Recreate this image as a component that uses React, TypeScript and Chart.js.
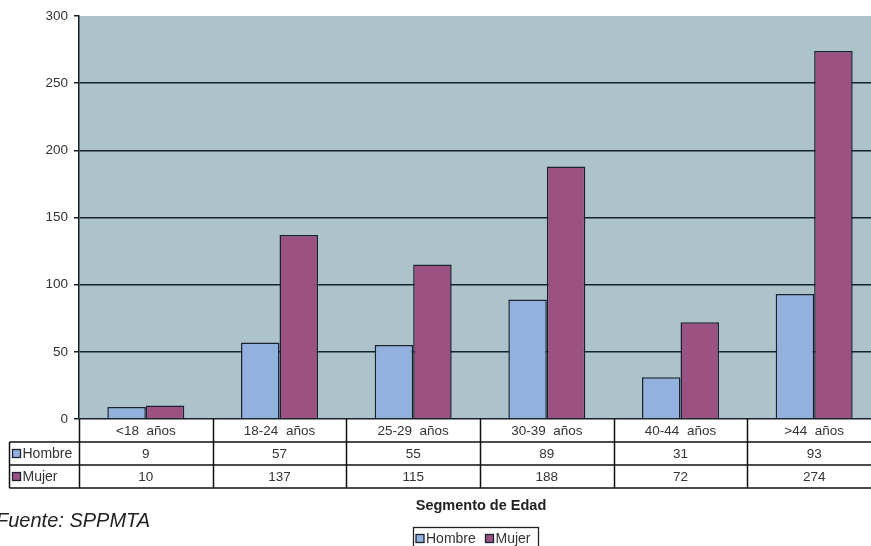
import React, { useEffect, useRef } from "react";
import { Chart, registerables } from "chart.js";

Chart.register(...registerables);

const categories = ["<18  años", "18-24  años", "25-29  años", "30-39  años", "40-44  años", ">44  años"];
const hombre = [9, 57, 55, 89, 31, 93];
const mujer = [10, 137, 115, 188, 72, 274];
const seriesNames = ["Hombre", "Mujer"];
const yTicks = [0, 50, 100, 150, 200, 250, 300];
const axisTitle = "Segmento de Edad";
const sourceNote = "Fuente: SPPMTA";

const BLUE = "#93b1df";
const MAUVE = "#9b5282";
const EDGE = "#1b2330";
const PLOT_BG = "#adc3ca";
const TEXT = "#333333";
const FONT = "Liberation Sans, Arial, sans-serif";

const tablePlugin = {
  id: "tablePlugin",
  beforeDraw(chart: any) {
    const { ctx, chartArea } = chart;
    ctx.save();
    ctx.fillStyle = PLOT_BG;
    ctx.fillRect(chartArea.left, chartArea.top, chartArea.right - chartArea.left, chartArea.bottom - chartArea.top);
    ctx.restore();
  },
  afterDraw(chart: any) {
    const { ctx, chartArea } = chart;
    const xs = chart.scales.x;
    const bottom = chartArea.bottom;
    const r0 = bottom;
    const r1 = 442;
    const r2 = 465;
    const r3 = 488;
    const labelLeft = 9.5;
    const n = categories.length;
    const step = (chartArea.right - chartArea.left) / n;
    const bounds: number[] = [];
    for (let i = 0; i <= n; i++) {
      bounds.push(i < n ? xs.getPixelForValue(i) - step / 2 : xs.getPixelForValue(n - 1) + step / 2);
    }
    ctx.save();
    ctx.strokeStyle = "#111";
    ctx.lineWidth = 1.5;
    ctx.beginPath();
    [r1, r2, r3].forEach((y) => {
      ctx.moveTo(labelLeft, y);
      ctx.lineTo(bounds[n] + 2, y);
    });
    ctx.moveTo(labelLeft, r1);
    ctx.lineTo(labelLeft, r3);
    bounds.forEach((bx) => {
      ctx.moveTo(Math.round(bx) + 0.5, r0);
      ctx.lineTo(Math.round(bx) + 0.5, r3);
    });
    ctx.stroke();

    ctx.fillStyle = TEXT;
    ctx.font = `13.5px ${FONT}`;
    ctx.textAlign = "center";
    ctx.textBaseline = "middle";
    for (let i = 0; i < n; i++) {
      const cx = xs.getPixelForValue(i);
      ctx.fillText(categories[i], cx, (r0 + r1) / 2 + 1);
      ctx.fillText(String(hombre[i]), cx, (r1 + r2) / 2 + 1);
      ctx.fillText(String(mujer[i]), cx, (r2 + r3) / 2 + 1);
    }
    const rows = [
      { name: seriesNames[0], color: BLUE, y: (r1 + r2) / 2 },
      { name: seriesNames[1], color: MAUVE, y: (r2 + r3) / 2 },
    ];
    ctx.textAlign = "left";
    ctx.font = `14px ${FONT}`;
    rows.forEach((r) => {
      ctx.fillStyle = r.color;
      ctx.fillRect(12.5, r.y - 4, 8, 8);
      ctx.strokeStyle = EDGE;
      ctx.lineWidth = 1.3;
      ctx.strokeRect(12.5, r.y - 4, 8, 8);
      ctx.fillStyle = TEXT;
      ctx.fillText(r.name, 22.5, r.y + 1);
    });

    ctx.font = `bold 14.5px ${FONT}`;
    ctx.textAlign = "center";
    ctx.fillStyle = "#222";
    ctx.fillText(axisTitle, 481, 506);

    ctx.font = `italic 20px ${FONT}`;
    ctx.textAlign = "left";
    ctx.textBaseline = "alphabetic";
    ctx.fillStyle = "#222";
    ctx.fillText(sourceNote, -4, 527);

    ctx.textBaseline = "middle";
    ctx.strokeStyle = "#222";
    ctx.lineWidth = 1.3;
    ctx.strokeRect(413.5, 527.5, 125, 25);
    ctx.font = `14px ${FONT}`;
    const items = [
      { name: seriesNames[0], color: BLUE, x: 416 },
      { name: seriesNames[1], color: MAUVE, x: 485.5 },
    ];
    items.forEach((it) => {
      ctx.fillStyle = it.color;
      ctx.fillRect(it.x, 534.5, 8, 8);
      ctx.strokeStyle = EDGE;
      ctx.strokeRect(it.x, 534.5, 8, 8);
      ctx.fillStyle = TEXT;
      ctx.fillText(it.name, it.x + 10, 539);
    });
    ctx.restore();
  },
};

export default function App() {
  const ref = useRef<HTMLCanvasElement | null>(null);
  useEffect(() => {
    if (!ref.current) return;
    const chart = new Chart(ref.current, {
      type: "bar",
      data: {
        labels: categories,
        datasets: [
          {
            label: seriesNames[0],
            data: hombre,
            backgroundColor: BLUE,
            borderColor: EDGE,
            borderWidth: 1.5,
            barPercentage: 1,
            categoryPercentage: 0.576,
          },
          {
            label: seriesNames[1],
            data: mujer,
            backgroundColor: MAUVE,
            borderColor: EDGE,
            borderWidth: 1.5,
            barPercentage: 1,
            categoryPercentage: 0.576,
          },
        ],
      },
      options: {
        responsive: false,
        animation: false,
        layout: { padding: { top: 16, bottom: 127, left: 0, right: 1 } },
        plugins: {
          legend: { display: false },
          tooltip: { enabled: false },
          title: { display: false },
        },
        scales: {
          x: { display: false, grid: { display: false } },
          y: {
            min: 0,
            max: 300,
            afterFit(scale: any) {
              scale.width = 79;
            },
            afterBuildTicks(scale: any) {
              scale.ticks = yTicks.map((v) => ({ value: v }));
            },
            ticks: {
              color: TEXT,
              font: { family: FONT, size: 13.5 },
              padding: 6,
            },
            grid: {
              color: (c: any) => (c.tick && c.tick.value === 300 ? "rgba(0,0,0,0)" : "#15222a"),
              lineWidth: 1.5,
              tickLength: 5,
              tickColor: "#15222a",
            },
            border: { display: true, color: "#15222a", width: 1.5 },
          },
        },
      },
      plugins: [tablePlugin],
    });
    return () => chart.destroy();
  }, []);
  return (
    <div style={{ position: "absolute", left: 0, top: 0, width: 871, height: 546, overflow: "hidden", background: "#fff" }}>
      <canvas ref={ref} width={882} height={546} style={{ display: "block" }} />
    </div>
  );
}
